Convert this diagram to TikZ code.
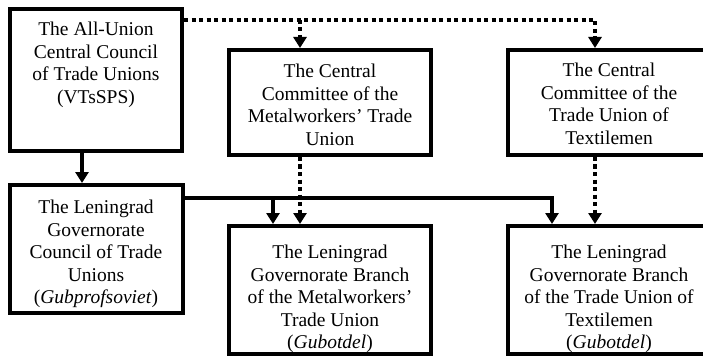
\documentclass[tikz,border=0pt]{standalone}
\usepackage{fontspec}
\setmainfont{Liberation Serif}
\usetikzlibrary{arrows.meta,calc}
\begin{document}
\begin{tikzpicture}[x=1pt,y=-1pt,
  box/.style={draw,line width=4pt,rectangle,inner sep=0pt},
  txt/.style={align=center,inner sep=0pt,anchor=north,font=\fontsize{19.5}{22.5}\selectfont},
  solidc/.style={line width=3.5pt,line join=miter},
  dotc/.style={line width=3.5pt,dash pattern=on 4pt off 3.5pt,line join=miter},
  arrtip/.style={-{Triangle[width=13pt,length=11pt]}}]
\useasboundingbox (0,0) rectangle (703,358);
\clip (0,0) rectangle (703,358);
% boxes
\node[box,minimum width=172pt,minimum height=142pt] (A) at (96,80) {};
\node[box,minimum width=173pt,minimum height=128pt] (B) at (96.5,249) {};
\node[box,minimum width=202pt,minimum height=105pt] (M1) at (330,102.5) {};
\node[box,minimum width=202pt,minimum height=105pt] (T1) at (609,102.5) {};
\node[box,minimum width=202pt,minimum height=128pt] (M2) at (330,290) {};
\node[box,minimum width=202pt,minimum height=128pt] (T2) at (609,290) {};
% texts
\node[txt] (At) at (96,22) {The All-Union\\Central Council\\of Trade Unions\\(VTsSPS)};
\node[txt] (Bt) at (96,200) {The Leningrad\\Governorate\\Council of Trade\\Unions\\(\textit{Gubprofsoviet})};
\node[txt] (M1t) at (330,64) {The Central\\Committee of the\\Metalworkers’ Trade\\Union};
\node[txt] (T1t) at (609,63) {The Central\\Committee of the\\Trade Union of\\Textilemen};
\node[txt] (M2t) at (330,245) {The Leningrad\\Governorate Branch\\of the Metalworkers’\\Trade Union\\(\textit{Gubotdel})};
\node[txt] (T2t) at (609,245) {The Leningrad\\Governorate Branch\\of the Trade Union of\\Textilemen\\(\textit{Gubotdel})};
% connector points
\coordinate (s0) at (82,0);
\coordinate (d1) at (300,20);
\coordinate (d2) at (595,20);
\coordinate (s1) at (273,198);
\coordinate (s2) at (552,198);
% dotted connectors
\draw[dotc,arrtip] (A.east |- d1) -- (d2) -- (d2 |- T1.north);
\draw[dotc,arrtip] (d1) -- (d1 |- M1.north);
\draw[dotc,arrtip] (M1.south -| d1) -- (d1 |- M2.north);
\draw[dotc,arrtip] (T1.south -| d2) -- (d2 |- T2.north);
% solid connectors
\draw[solidc,arrtip] (A.south -| s0) -- (s0 |- B.north);
\draw[solidc,arrtip] (B.east |- s1) -- (s2) -- (s2 |- T2.north);
\draw[solidc,arrtip] (s1) -- (s1 |- M2.north);
\end{tikzpicture}
\end{document}
